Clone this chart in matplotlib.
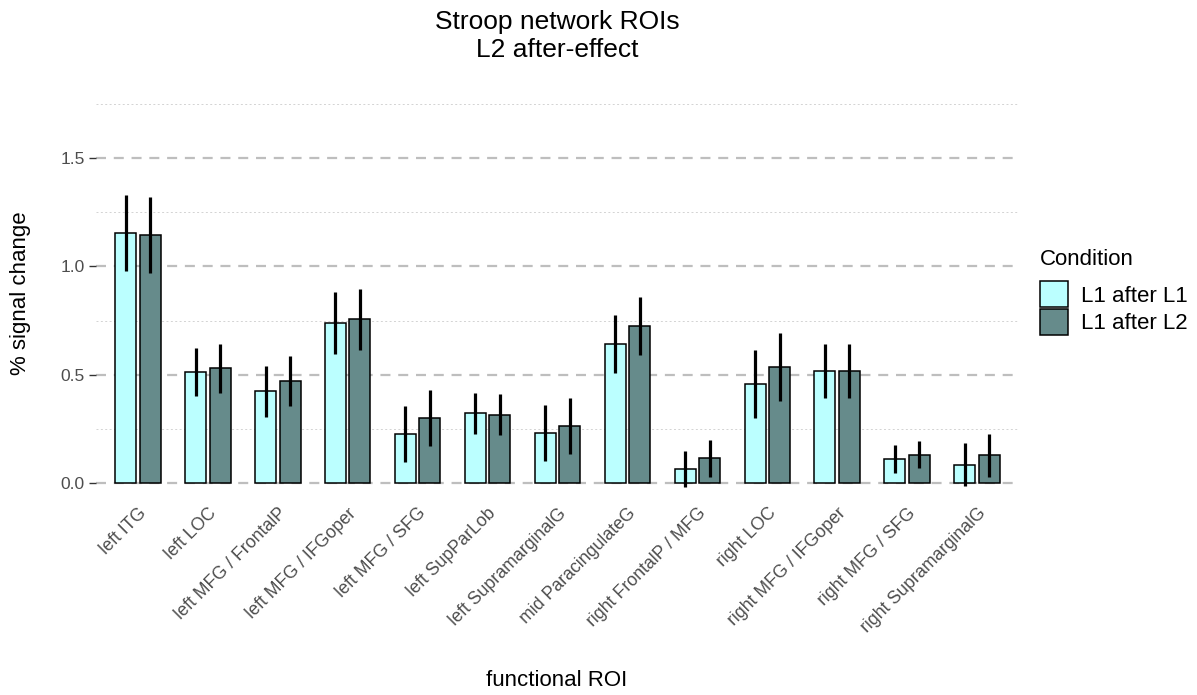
import matplotlib
matplotlib.use("Agg")
import matplotlib.pyplot as plt
from matplotlib.patches import Patch
import numpy as np

plt.rcParams['font.family'] = ['Liberation Sans', 'DejaVu Sans']

categories = ["left ITG", "left LOC", "left MFG / FrontalP", "left MFG / IFGoper",
              "left MFG / SFG", "left SupParLob", "left SupramarginalG",
              "mid ParacingulateG", "right FrontalP / MFG", "right LOC",
              "right MFG / IFGoper", "right MFG / SFG", "right SupramarginalG"]
conditions = ["L1 after L1", "L1 after L2"]

l1_mean = [1.155, 0.512, 0.425, 0.740, 0.226, 0.322, 0.232, 0.643, 0.065, 0.457, 0.517, 0.111, 0.085]
l1_lo   = [0.978, 0.401, 0.306, 0.598, 0.098, 0.226, 0.101, 0.509, -0.020, 0.298, 0.391, 0.048, -0.014]
l1_hi   = [1.332, 0.623, 0.540, 0.883, 0.354, 0.414, 0.360, 0.775, 0.148, 0.614, 0.641, 0.174, 0.183]

l2_mean = [1.145, 0.529, 0.471, 0.757, 0.302, 0.315, 0.263, 0.725, 0.115, 0.537, 0.517, 0.131, 0.128]
l2_lo   = [0.971, 0.417, 0.355, 0.614, 0.172, 0.222, 0.132, 0.591, 0.029, 0.378, 0.391, 0.068, 0.029]
l2_hi   = [1.320, 0.640, 0.586, 0.898, 0.429, 0.409, 0.391, 0.858, 0.198, 0.694, 0.641, 0.194, 0.226]

colors = ["#BBFFFF", "#668B8B"]

fig = plt.figure(figsize=(11.97, 6.95), dpi=100)
ax = fig.add_axes([96/1197, (695-502)/695, (1019-96)/1197, (502-85)/695])

x = np.arange(len(categories))
w = 0.3
off = 0.175
series = [(l1_mean, l1_lo, l1_hi), (l2_mean, l2_lo, l2_hi)]
for i, (m, lo, hi) in enumerate(series):
    xi = x + (-off if i == 0 else off)
    ax.bar(xi, m, width=w, color=colors[i], edgecolor="black", linewidth=1.1, zorder=3)
    ax.vlines(xi, lo, hi, color="black", linewidth=2.3, zorder=4)

ax.set_xlim(-0.6, len(categories) - 1 + 0.6)
ax.set_ylim(-0.0875, 1.8375)

major = [0.0, 0.5, 1.0, 1.5]
minor = [0.25, 0.75, 1.25, 1.75]
for v in major:
    ax.axhline(v, color="#BEBEBE", linewidth=1.6, linestyle=(0, (4.5, 3.5)), zorder=1)
for v in minor:
    ax.axhline(v, color="#D3D3D3", linewidth=0.7, linestyle=(0, (2, 2.5)), zorder=1)

ax.set_yticks(major)
ax.set_yticklabels(["0.0", "0.5", "1.0", "1.5"])
ax.tick_params(axis="y", length=5, width=1.0, color="#333333", labelcolor="#4D4D4D",
               labelsize=12.5, pad=3)
ax.set_xticks(x)
ax.set_xticklabels(categories, rotation=45, ha="right", rotation_mode="anchor")
ax.tick_params(axis="x", length=0, labelcolor="#4D4D4D", labelsize=12.8, pad=2)

for s in ax.spines.values():
    s.set_visible(False)

ax.set_xlabel("functional ROI", fontsize=16)
ax.set_ylabel("% signal change", fontsize=16)
ax.xaxis.set_label_coords((557 - 96) / 923, (502 - 670) / 417)
ax.yaxis.set_label_coords((31 - 96) / 923, (502 - 293) / 417)
ax.xaxis.label.set_va("top")
ax.yaxis.label.set_va("bottom")
fig.text(557/1197, 1 - 10/695, "Stroop network ROIs\nL2 after-effect", fontsize=19,
         ha="center", va="top", linespacing=1.2)

handles = [Patch(facecolor=colors[0], edgecolor="black", linewidth=1.1),
           Patch(facecolor=colors[1], edgecolor="black", linewidth=1.1)]
leg = fig.legend(handles, conditions, title="Condition", loc="center left",
                 bbox_to_anchor=(1040/1197, (695-292)/695), frameon=False,
                 fontsize=16, title_fontsize=16, handlelength=1.25, handleheight=1.4,
                 labelspacing=0.08, handletextpad=0.6, borderpad=0, borderaxespad=0)
leg._legend_box.align = "left"
leg._legend_box.sep = 8

fig.savefig("out.png", dpi=100)
